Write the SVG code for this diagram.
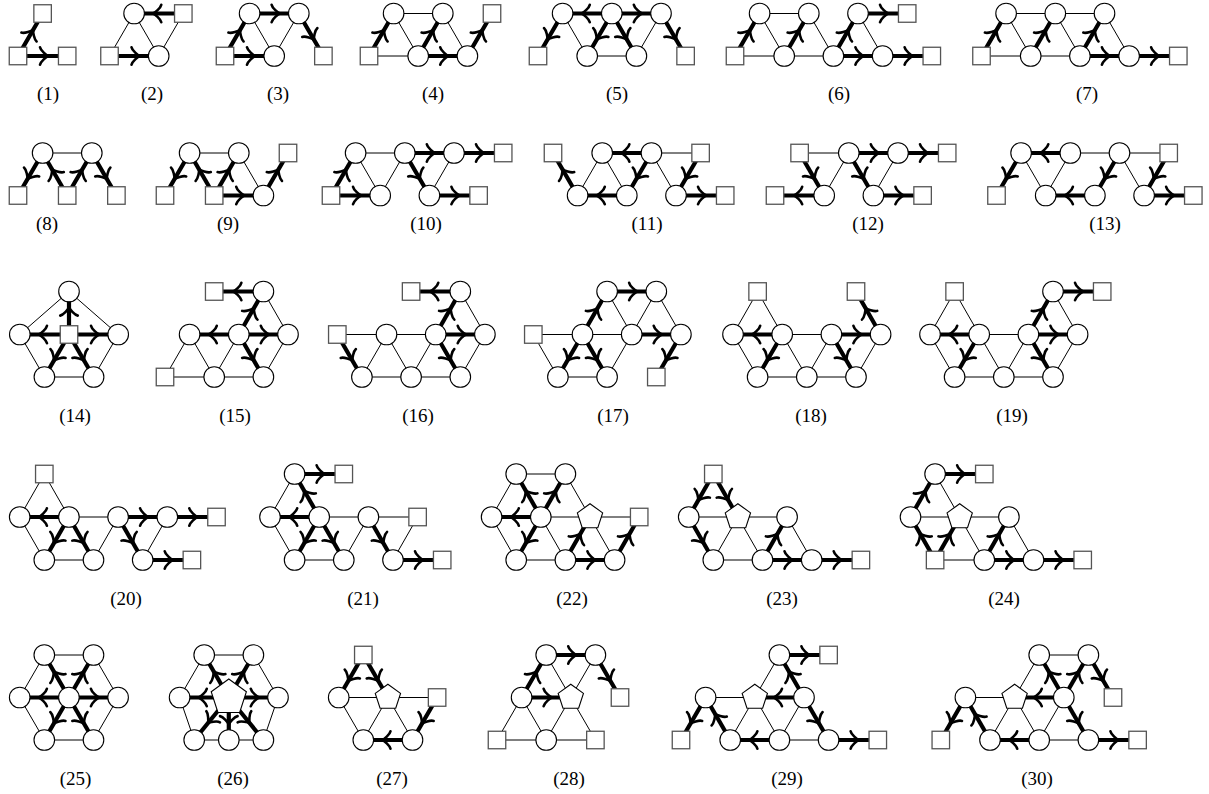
<svg xmlns="http://www.w3.org/2000/svg" xmlns:xlink="http://www.w3.org/1999/xlink" width="1209" height="794" viewBox="0 0 1209 794">
<style>
.t{stroke:#000;stroke-width:1;fill:none}
.k{stroke:#000;stroke-width:4.2;fill:none;marker-mid:url(#ah)}
.n{fill:#fff;stroke:#000;stroke-width:1.1}
.s{fill:#fff;stroke:#555;stroke-width:1.3}
text{font-family:"Liberation Serif","DejaVu Serif",serif;font-size:19px;text-anchor:middle;fill:#000}
</style>
<defs>
<marker id="ah" markerUnits="userSpaceOnUse" orient="auto" overflow="visible" markerWidth="20" markerHeight="20" refX="0" refY="0">
<path d="M-2.6 -8.8C-2 -5.5 4 -0.6 5.7 0C4 0.6 -2 5.5 -2.6 8.8" fill="none" stroke="#000" stroke-width="2.6" stroke-linecap="round" stroke-linejoin="round"/>
</marker>
<circle id="C" class="n" r="10.3"/>
<rect id="S" class="s" x="-8.75" y="-8.75" width="17.5" height="17.5"/>
<polygon id="P" class="n" points="0,-13.3 12.65,-4.11 7.82,10.76 -7.82,10.76 -12.65,-4.11"/>
<polygon id="PL" class="n" points="0,-18.5 17.59,-5.72 10.87,14.97 -10.87,14.97 -17.59,-5.72"/>
</defs>

<!-- Row 1 -->
<g id="fig1" transform="translate(18,0)">
<g class="connectors"><path class="k" d="M0 56L12.3 34.75L24.6 13.5"/><path class="k" d="M0 56L24.6 56L49.2 56"/></g>
<g class="nodes"><use id="n1a" href="#S" x="0" y="56"/><use id="n1b" href="#S" x="24.6" y="13.5"/><use id="n1c" href="#S" x="49.2" y="56"/></g>
</g>
<g id="fig2" transform="translate(109.5,0)">
<g class="connectors"><path class="t" d="M0 56L24.6 13.5M24.6 13.5L49.2 56M49.2 56L73.8 13.5"/><path class="k" d="M73.8 13.5L49.2 13.5L24.6 13.5"/><path class="k" d="M0 56L24.6 56L49.2 56"/></g>
<g class="nodes"><use id="n2a" href="#S" x="0" y="56"/><use id="n2b" href="#C" x="24.6" y="13.5"/><use id="n2c" href="#C" x="49.2" y="56"/><use id="n2d" href="#S" x="73.8" y="13.5"/></g>
</g>
<g id="fig3" transform="translate(225,0)">
<g class="connectors"><path class="t" d="M24.6 13.5L49.2 56M49.2 56L73.8 13.5"/><path class="k" d="M0 56L12.3 34.75L24.6 13.5"/><path class="k" d="M0 56L24.6 56L49.2 56"/><path class="k" d="M24.6 13.5L49.2 13.5L73.8 13.5"/><path class="k" d="M73.8 13.5L86.1 34.75L98.4 56"/></g>
<g class="nodes"><use id="n3a" href="#S" x="0" y="56"/><use id="n3b" href="#C" x="24.6" y="13.5"/><use id="n3c" href="#C" x="49.2" y="56"/><use id="n3d" href="#C" x="73.8" y="13.5"/><use id="n3e" href="#S" x="98.4" y="56"/></g>
</g>
<g id="fig4" transform="translate(369,0)">
<g class="connectors"><path class="t" d="M0 56L49.2 56M24.6 13.5L73.8 13.5M24.6 13.5L49.2 56M73.8 13.5L98.4 56"/><path class="k" d="M0 56L12.3 34.75L24.6 13.5"/><path class="k" d="M49.2 56L61.5 34.75L73.8 13.5"/><path class="k" d="M49.2 56L73.8 56L98.4 56"/><path class="k" d="M98.4 56L110.7 34.75L123 13.5"/></g>
<g class="nodes"><use id="n4a" href="#S" x="0" y="56"/><use id="n4b" href="#C" x="24.6" y="13.5"/><use id="n4c" href="#C" x="49.2" y="56"/><use id="n4d" href="#C" x="73.8" y="13.5"/><use id="n4e" href="#C" x="98.4" y="56"/><use id="n4f" href="#S" x="123" y="13.5"/></g>
</g>
<g id="fig5" transform="translate(538,0)">
<g class="connectors"><path class="t" d="M24.6 13.5L49.2 56M49.2 56L98.4 56M98.4 56L123 13.5"/><path class="k" d="M24.6 13.5L12.3 34.75L0 56"/><path class="k" d="M73.8 13.5L49.2 13.5L24.6 13.5"/><path class="k" d="M73.8 13.5L98.4 13.5L123 13.5"/><path class="k" d="M73.8 13.5L61.5 34.75L49.2 56"/><path class="k" d="M73.8 13.5L86.1 34.75L98.4 56"/><path class="k" d="M123 13.5L135.3 34.75L147.6 56"/></g>
<g class="nodes"><use id="n5a" href="#S" x="0" y="56"/><use id="n5b" href="#C" x="24.6" y="13.5"/><use id="n5c" href="#C" x="49.2" y="56"/><use id="n5d" href="#C" x="73.8" y="13.5"/><use id="n5e" href="#C" x="98.4" y="56"/><use id="n5f" href="#C" x="123" y="13.5"/><use id="n5g" href="#S" x="147.6" y="56"/></g>
</g>
<g id="fig6" transform="translate(735,0)">
<g class="connectors"><path class="t" d="M0 56L49.2 56M24.6 13.5L73.8 13.5M24.6 13.5L49.2 56M73.8 13.5L98.4 56M49.2 56L98.4 56M123 13.5L147.6 56"/><path class="k" d="M0 56L12.3 34.75L24.6 13.5"/><path class="k" d="M49.2 56L61.5 34.75L73.8 13.5"/><path class="k" d="M98.4 56L110.7 34.75L123 13.5"/><path class="k" d="M98.4 56L123 56L147.6 56"/><path class="k" d="M147.6 56L172.2 56L196.8 56"/><path class="k" d="M123 13.5L147.6 13.5L172.2 13.5"/></g>
<g class="nodes"><use id="n6a" href="#S" x="0" y="56"/><use id="n6b" href="#C" x="24.6" y="13.5"/><use id="n6c" href="#C" x="49.2" y="56"/><use id="n6d" href="#C" x="73.8" y="13.5"/><use id="n6e" href="#C" x="98.4" y="56"/><use id="n6f" href="#C" x="123" y="13.5"/><use id="n6g" href="#C" x="147.6" y="56"/><use id="n6h" href="#S" x="172.2" y="13.5"/><use id="n6i" href="#S" x="196.8" y="56"/></g>
</g>
<g id="fig7" transform="translate(981.5,0)">
<g class="connectors"><path class="t" d="M0 56L49.2 56M24.6 13.5L123 13.5M24.6 13.5L49.2 56M73.8 13.5L98.4 56M49.2 56L98.4 56M123 13.5L147.6 56"/><path class="k" d="M0 56L12.3 34.75L24.6 13.5"/><path class="k" d="M49.2 56L61.5 34.75L73.8 13.5"/><path class="k" d="M98.4 56L110.7 34.75L123 13.5"/><path class="k" d="M98.4 56L123 56L147.6 56"/><path class="k" d="M147.6 56L172.2 56L196.8 56"/></g>
<g class="nodes"><use id="n7a" href="#S" x="0" y="56"/><use id="n7b" href="#C" x="24.6" y="13.5"/><use id="n7c" href="#C" x="49.2" y="56"/><use id="n7d" href="#C" x="73.8" y="13.5"/><use id="n7e" href="#C" x="98.4" y="56"/><use id="n7f" href="#C" x="123" y="13.5"/><use id="n7g" href="#C" x="147.6" y="56"/><use id="n7h" href="#S" x="196.8" y="56"/></g>
</g>

<!-- Row 2 -->
<g id="fig8" transform="translate(18,0)">
<g class="connectors"><path class="t" d="M24.6 153L73.8 153"/><path class="k" d="M24.6 153L12.3 174.25L0 195.5"/><path class="k" d="M49.2 195.5L36.9 174.25L24.6 153"/><path class="k" d="M49.2 195.5L61.5 174.25L73.8 153"/><path class="k" d="M73.8 153L86.1 174.25L98.4 195.5"/></g>
<g class="nodes"><use id="n8a" href="#S" x="0" y="195.5"/><use id="n8b" href="#C" x="24.6" y="153"/><use id="n8c" href="#S" x="49.2" y="195.5"/><use id="n8d" href="#C" x="73.8" y="153"/><use id="n8e" href="#S" x="98.4" y="195.5"/></g>
</g>
<g id="fig9" transform="translate(165,0)">
<g class="connectors"><path class="t" d="M24.6 153L73.8 153M73.8 153L98.4 195.5"/><path class="k" d="M24.6 153L12.3 174.25L0 195.5"/><path class="k" d="M49.2 195.5L36.9 174.25L24.6 153"/><path class="k" d="M49.2 195.5L61.5 174.25L73.8 153"/><path class="k" d="M49.2 195.5L73.8 195.5L98.4 195.5"/><path class="k" d="M98.4 195.5L110.7 174.25L123 153"/></g>
<g class="nodes"><use id="n9a" href="#S" x="0" y="195.5"/><use id="n9b" href="#C" x="24.6" y="153"/><use id="n9c" href="#S" x="49.2" y="195.5"/><use id="n9d" href="#C" x="73.8" y="153"/><use id="n9e" href="#C" x="98.4" y="195.5"/><use id="n9f" href="#S" x="123" y="153"/></g>
</g>
<g id="fig10" transform="translate(331,0)">
<g class="connectors"><path class="t" d="M24.6 153L73.8 153M24.6 153L49.2 195.5M49.2 195.5L73.8 153M98.4 195.5L123 153"/><path class="k" d="M0 195.5L12.3 174.25L24.6 153"/><path class="k" d="M0 195.5L24.6 195.5L49.2 195.5"/><path class="k" d="M73.8 153L98.4 153L123 153"/><path class="k" d="M73.8 153L86.1 174.25L98.4 195.5"/><path class="k" d="M123 153L147.6 153L172.2 153"/><path class="k" d="M98.4 195.5L123 195.5L147.6 195.5"/></g>
<g class="nodes"><use id="n10a" href="#S" x="0" y="195.5"/><use id="n10b" href="#C" x="24.6" y="153"/><use id="n10c" href="#C" x="49.2" y="195.5"/><use id="n10d" href="#C" x="73.8" y="153"/><use id="n10e" href="#C" x="98.4" y="195.5"/><use id="n10f" href="#C" x="123" y="153"/><use id="n10g" href="#S" x="147.6" y="195.5"/><use id="n10h" href="#S" x="172.2" y="153"/></g>
</g>
<g id="fig11" transform="translate(553,0)">
<g class="connectors"><path class="t" d="M24.6 195.5L49.2 153M49.2 153L73.8 195.5M98.4 153L147.6 153M98.4 153L123 195.5"/><path class="k" d="M24.6 195.5L12.3 174.25L0 153"/><path class="k" d="M98.4 153L73.8 153L49.2 153"/><path class="k" d="M73.8 195.5L49.2 195.5L24.6 195.5"/><path class="k" d="M98.4 153L86.1 174.25L73.8 195.5"/><path class="k" d="M147.6 153L135.3 174.25L123 195.5"/><path class="k" d="M123 195.5L147.6 195.5L172.2 195.5"/></g>
<g class="nodes"><use id="n11a" href="#S" x="0" y="153"/><use id="n11b" href="#C" x="24.6" y="195.5"/><use id="n11c" href="#C" x="49.2" y="153"/><use id="n11d" href="#C" x="73.8" y="195.5"/><use id="n11e" href="#C" x="98.4" y="153"/><use id="n11f" href="#C" x="123" y="195.5"/><use id="n11g" href="#S" x="147.6" y="153"/><use id="n11h" href="#S" x="172.2" y="195.5"/></g>
</g>
<g id="fig12" transform="translate(775,0)">
<g class="connectors"><path class="t" d="M24.6 153L73.8 153M49.2 195.5L73.8 153M98.4 195.5L123 153"/><path class="k" d="M24.6 153L36.9 174.25L49.2 195.5"/><path class="k" d="M49.2 195.5L24.6 195.5L0 195.5"/><path class="k" d="M73.8 153L98.4 153L123 153"/><path class="k" d="M73.8 153L86.1 174.25L98.4 195.5"/><path class="k" d="M123 153L147.6 153L172.2 153"/><path class="k" d="M98.4 195.5L123 195.5L147.6 195.5"/></g>
<g class="nodes"><use id="n12a" href="#S" x="0" y="195.5"/><use id="n12b" href="#S" x="24.6" y="153"/><use id="n12c" href="#C" x="49.2" y="195.5"/><use id="n12d" href="#C" x="73.8" y="153"/><use id="n12e" href="#C" x="98.4" y="195.5"/><use id="n12f" href="#C" x="123" y="153"/><use id="n12g" href="#S" x="147.6" y="195.5"/><use id="n12h" href="#S" x="172.2" y="153"/></g>
</g>
<g id="fig13" transform="translate(996.5,0)">
<g class="connectors"><path class="t" d="M24.6 153L49.2 195.5M49.2 195.5L73.8 153M73.8 153L172.2 153M123 153L147.6 195.5"/><path class="k" d="M24.6 153L12.3 174.25L0 195.5"/><path class="k" d="M73.8 153L49.2 153L24.6 153"/><path class="k" d="M98.4 195.5L73.8 195.5L49.2 195.5"/><path class="k" d="M123 153L110.7 174.25L98.4 195.5"/><path class="k" d="M172.2 153L159.9 174.25L147.6 195.5"/><path class="k" d="M147.6 195.5L172.2 195.5L196.8 195.5"/></g>
<g class="nodes"><use id="n13a" href="#S" x="0" y="195.5"/><use id="n13b" href="#C" x="24.6" y="153"/><use id="n13c" href="#C" x="49.2" y="195.5"/><use id="n13d" href="#C" x="73.8" y="153"/><use id="n13e" href="#C" x="98.4" y="195.5"/><use id="n13f" href="#C" x="123" y="153"/><use id="n13g" href="#C" x="147.6" y="195.5"/><use id="n13h" href="#S" x="172.2" y="153"/><use id="n13i" href="#S" x="196.8" y="195.5"/></g>
</g>

<!-- Row 3 -->
<g id="fig14" transform="translate(19.8,0)">
<g class="connectors"><path class="t" d="M49.2 291.5L0 334.5M49.2 291.5L98.4 334.5M0 334.5L24.6 377M98.4 334.5L73.8 377M24.6 377L73.8 377"/><path class="k" d="M49.2 334.5L49.2 313L49.2 291.5"/><path class="k" d="M49.2 334.5L24.6 334.5L0 334.5"/><path class="k" d="M49.2 334.5L73.8 334.5L98.4 334.5"/><path class="k" d="M49.2 334.5L36.9 355.75L24.6 377"/><path class="k" d="M49.2 334.5L61.5 355.75L73.8 377"/></g>
<g class="nodes"><use id="n14a" href="#C" x="49.2" y="291.5"/><use id="n14b" href="#C" x="0" y="334.5"/><use id="n14c" href="#S" x="49.2" y="334.5"/><use id="n14d" href="#C" x="98.4" y="334.5"/><use id="n14e" href="#C" x="24.6" y="377"/><use id="n14f" href="#C" x="73.8" y="377"/></g>
</g>
<g id="fig15" transform="translate(165,0)">
<g class="connectors"><path class="t" d="M98.4 291.5L123 334.5M24.6 334.5L0 377M24.6 334.5L49.2 377M49.2 377L73.8 334.5M123 334.5L98.4 377M0 377L98.4 377"/><path class="k" d="M98.4 291.5L73.8 291.5L49.2 291.5"/><path class="k" d="M73.8 334.5L86.1 313L98.4 291.5"/><path class="k" d="M73.8 334.5L49.2 334.5L24.6 334.5"/><path class="k" d="M73.8 334.5L98.4 334.5L123 334.5"/><path class="k" d="M73.8 334.5L86.1 355.75L98.4 377"/></g>
<g class="nodes"><use id="n15a" href="#S" x="0" y="377"/><use id="n15b" href="#C" x="49.2" y="377"/><use id="n15c" href="#C" x="98.4" y="377"/><use id="n15d" href="#C" x="24.6" y="334.5"/><use id="n15e" href="#C" x="73.8" y="334.5"/><use id="n15f" href="#C" x="123" y="334.5"/><use id="n15g" href="#S" x="49.2" y="291.5"/><use id="n15h" href="#C" x="98.4" y="291.5"/></g>
</g>
<g id="fig16" transform="translate(337.3,0)">
<g class="connectors"><path class="t" d="M123 291.5L147.6 334.5M0 334.5L98.4 334.5M24.6 377L49.2 334.5M49.2 334.5L73.8 377M73.8 377L98.4 334.5M147.6 334.5L123 377M24.6 377L123 377"/><path class="k" d="M123 291.5L98.4 291.5L73.8 291.5"/><path class="k" d="M98.4 334.5L110.7 313L123 291.5"/><path class="k" d="M98.4 334.5L123 334.5L147.6 334.5"/><path class="k" d="M0 334.5L12.3 355.75L24.6 377"/><path class="k" d="M98.4 334.5L110.7 355.75L123 377"/></g>
<g class="nodes"><use id="n16a" href="#S" x="0" y="334.5"/><use id="n16b" href="#C" x="49.2" y="334.5"/><use id="n16c" href="#C" x="98.4" y="334.5"/><use id="n16d" href="#C" x="147.6" y="334.5"/><use id="n16e" href="#C" x="24.6" y="377"/><use id="n16f" href="#C" x="73.8" y="377"/><use id="n16g" href="#C" x="123" y="377"/><use id="n16h" href="#S" x="73.8" y="291.5"/><use id="n16i" href="#C" x="123" y="291.5"/></g>
</g>
<g id="fig17" transform="translate(533.3,0)">
<g class="connectors"><path class="t" d="M0 334.5L98.4 334.5M0 334.5L24.6 377M73.8 291.5L98.4 334.5M123 291.5L98.4 334.5M123 291.5L147.6 334.5M73.8 377L98.4 334.5M24.6 377L73.8 377"/><path class="k" d="M49.2 334.5L61.5 313L73.8 291.5"/><path class="k" d="M73.8 291.5L98.4 291.5L123 291.5"/><path class="k" d="M98.4 334.5L123 334.5L147.6 334.5"/><path class="k" d="M147.6 334.5L135.3 355.75L123 377"/><path class="k" d="M49.2 334.5L36.9 355.75L24.6 377"/><path class="k" d="M49.2 334.5L61.5 355.75L73.8 377"/></g>
<g class="nodes"><use id="n17a" href="#S" x="0" y="334.5"/><use id="n17b" href="#C" x="49.2" y="334.5"/><use id="n17c" href="#C" x="98.4" y="334.5"/><use id="n17d" href="#C" x="147.6" y="334.5"/><use id="n17e" href="#C" x="73.8" y="291.5"/><use id="n17f" href="#C" x="123" y="291.5"/><use id="n17g" href="#C" x="24.6" y="377"/><use id="n17h" href="#C" x="73.8" y="377"/><use id="n17i" href="#S" x="123" y="377"/></g>
</g>
<g id="fig18" transform="translate(733,0)">
<g class="connectors"><path class="t" d="M24.6 291.5L0 334.5M24.6 291.5L49.2 334.5M0 334.5L24.6 377M49.2 334.5L73.8 377M49.2 334.5L98.4 334.5M73.8 377L98.4 334.5M147.6 334.5L123 377M24.6 377L123 377"/><path class="k" d="M49.2 334.5L24.6 334.5L0 334.5"/><path class="k" d="M49.2 334.5L36.9 355.75L24.6 377"/><path class="k" d="M98.4 334.5L123 334.5L147.6 334.5"/><path class="k" d="M147.6 334.5L135.3 313L123 291.5"/><path class="k" d="M98.4 334.5L110.7 355.75L123 377"/></g>
<g class="nodes"><use id="n18a" href="#C" x="0" y="334.5"/><use id="n18b" href="#C" x="49.2" y="334.5"/><use id="n18c" href="#C" x="98.4" y="334.5"/><use id="n18d" href="#C" x="147.6" y="334.5"/><use id="n18e" href="#S" x="24.6" y="291.5"/><use id="n18f" href="#S" x="123" y="291.5"/><use id="n18g" href="#C" x="24.6" y="377"/><use id="n18h" href="#C" x="73.8" y="377"/><use id="n18i" href="#C" x="123" y="377"/></g>
</g>
<g id="fig19" transform="translate(930,0)">
<g class="connectors"><path class="t" d="M24.6 291.5L0 334.5M24.6 291.5L49.2 334.5M0 334.5L24.6 377M49.2 334.5L73.8 377M49.2 334.5L98.4 334.5M73.8 377L98.4 334.5M123 291.5L147.6 334.5M147.6 334.5L123 377M24.6 377L123 377"/><path class="k" d="M49.2 334.5L24.6 334.5L0 334.5"/><path class="k" d="M49.2 334.5L36.9 355.75L24.6 377"/><path class="k" d="M98.4 334.5L110.7 313L123 291.5"/><path class="k" d="M123 291.5L147.6 291.5L172.2 291.5"/><path class="k" d="M98.4 334.5L123 334.5L147.6 334.5"/><path class="k" d="M98.4 334.5L110.7 355.75L123 377"/></g>
<g class="nodes"><use id="n19a" href="#C" x="0" y="334.5"/><use id="n19b" href="#C" x="49.2" y="334.5"/><use id="n19c" href="#C" x="98.4" y="334.5"/><use id="n19d" href="#C" x="147.6" y="334.5"/><use id="n19e" href="#S" x="24.6" y="291.5"/><use id="n19f" href="#C" x="123" y="291.5"/><use id="n19g" href="#S" x="172.2" y="291.5"/><use id="n19h" href="#C" x="24.6" y="377"/><use id="n19i" href="#C" x="73.8" y="377"/><use id="n19j" href="#C" x="123" y="377"/></g>
</g>

<!-- Row 4 -->
<g id="fig20" transform="translate(19.7,0)">
<g class="connectors"><path class="t" d="M24.6 474L0 517M24.6 474L49.2 517M49.2 517L98.4 517M0 517L24.6 560M24.6 560L73.8 560M73.8 560L98.4 517M147.6 517L123 560"/><path class="k" d="M49.2 517L24.6 517L0 517"/><path class="k" d="M98.4 517L123 517L147.6 517"/><path class="k" d="M147.6 517L172.2 517L196.8 517"/><path class="k" d="M49.2 517L36.9 538.5L24.6 560"/><path class="k" d="M49.2 517L61.5 538.5L73.8 560"/><path class="k" d="M98.4 517L110.7 538.5L123 560"/><path class="k" d="M123 560L147.6 560L172.2 560"/></g>
<g class="nodes"><use id="n20a" href="#S" x="24.6" y="474"/><use id="n20b" href="#C" x="0" y="517"/><use id="n20c" href="#C" x="49.2" y="517"/><use id="n20d" href="#C" x="98.4" y="517"/><use id="n20e" href="#C" x="147.6" y="517"/><use id="n20f" href="#S" x="196.8" y="517"/><use id="n20g" href="#C" x="24.6" y="560"/><use id="n20h" href="#C" x="73.8" y="560"/><use id="n20i" href="#C" x="123" y="560"/><use id="n20j" href="#S" x="172.2" y="560"/></g>
</g>
<g id="fig21" transform="translate(270,0)">
<g class="connectors"><path class="t" d="M24.6 474L0 517M49.2 517L147.6 517M0 517L24.6 560M24.6 560L73.8 560M73.8 560L98.4 517M147.6 517L123 560"/><path class="k" d="M24.6 474L49.2 474L73.8 474"/><path class="k" d="M49.2 517L36.9 495.5L24.6 474"/><path class="k" d="M49.2 517L24.6 517L0 517"/><path class="k" d="M49.2 517L36.9 538.5L24.6 560"/><path class="k" d="M49.2 517L61.5 538.5L73.8 560"/><path class="k" d="M98.4 517L110.7 538.5L123 560"/><path class="k" d="M123 560L147.6 560L172.2 560"/></g>
<g class="nodes"><use id="n21a" href="#C" x="24.6" y="474"/><use id="n21b" href="#S" x="73.8" y="474"/><use id="n21c" href="#C" x="0" y="517"/><use id="n21d" href="#C" x="49.2" y="517"/><use id="n21e" href="#C" x="98.4" y="517"/><use id="n21f" href="#S" x="147.6" y="517"/><use id="n21g" href="#C" x="24.6" y="560"/><use id="n21h" href="#C" x="73.8" y="560"/><use id="n21i" href="#C" x="123" y="560"/><use id="n21j" href="#S" x="172.2" y="560"/></g>
</g>
<g id="fig22" transform="translate(491.6,0)">
<g class="connectors"><path class="t" d="M24.6 474L73.8 474M24.6 474L0 517M73.8 474L98.4 517M49.2 517L147.6 517M0 517L24.6 560M49.2 517L73.8 560M98.4 517L123 560M24.6 560L73.8 560"/><path class="k" d="M49.2 517L36.9 495.5L24.6 474"/><path class="k" d="M49.2 517L61.5 495.5L73.8 474"/><path class="k" d="M49.2 517L24.6 517L0 517"/><path class="k" d="M49.2 517L36.9 538.5L24.6 560"/><path class="k" d="M73.8 560L86.1 538.5L98.4 517"/><path class="k" d="M73.8 560L98.4 560L123 560"/><path class="k" d="M123 560L135.3 538.5L147.6 517"/></g>
<g class="nodes"><use id="n22a" href="#C" x="24.6" y="474"/><use id="n22b" href="#C" x="73.8" y="474"/><use id="n22c" href="#C" x="0" y="517"/><use id="n22d" href="#C" x="49.2" y="517"/><use id="n22e" href="#P" x="98.4" y="517"/><use id="n22f" href="#S" x="147.6" y="517"/><use id="n22g" href="#C" x="24.6" y="560"/><use id="n22h" href="#C" x="73.8" y="560"/><use id="n22i" href="#C" x="123" y="560"/></g>
</g>
<g id="fig23" transform="translate(688.7,0)">
<g class="connectors"><path class="t" d="M0 517L98.4 517M49.2 517L24.6 560M49.2 517L73.8 560M98.4 517L123 560M24.6 560L73.8 560"/><path class="k" d="M24.6 474L12.3 495.5L0 517"/><path class="k" d="M24.6 474L36.9 495.5L49.2 517"/><path class="k" d="M0 517L12.3 538.5L24.6 560"/><path class="k" d="M73.8 560L86.1 538.5L98.4 517"/><path class="k" d="M73.8 560L98.4 560L123 560"/><path class="k" d="M123 560L147.6 560L172.2 560"/></g>
<g class="nodes"><use id="n23a" href="#S" x="24.6" y="474"/><use id="n23b" href="#C" x="0" y="517"/><use id="n23c" href="#P" x="49.2" y="517"/><use id="n23d" href="#C" x="98.4" y="517"/><use id="n23e" href="#C" x="24.6" y="560"/><use id="n23f" href="#C" x="73.8" y="560"/><use id="n23g" href="#C" x="123" y="560"/><use id="n23h" href="#S" x="172.2" y="560"/></g>
</g>
<g id="fig24" transform="translate(910.5,0)">
<g class="connectors"><path class="t" d="M24.6 474L49.2 517M0 517L98.4 517M24.6 560L73.8 560M49.2 517L73.8 560M98.4 517L123 560"/><path class="k" d="M24.6 474L49.2 474L73.8 474"/><path class="k" d="M0 517L12.3 495.5L24.6 474"/><path class="k" d="M24.6 560L12.3 538.5L0 517"/><path class="k" d="M24.6 560L36.9 538.5L49.2 517"/><path class="k" d="M73.8 560L86.1 538.5L98.4 517"/><path class="k" d="M73.8 560L98.4 560L123 560"/><path class="k" d="M123 560L147.6 560L172.2 560"/></g>
<g class="nodes"><use id="n24a" href="#C" x="24.6" y="474"/><use id="n24b" href="#S" x="73.8" y="474"/><use id="n24c" href="#C" x="0" y="517"/><use id="n24d" href="#P" x="49.2" y="517"/><use id="n24e" href="#C" x="98.4" y="517"/><use id="n24f" href="#S" x="24.6" y="560"/><use id="n24g" href="#C" x="73.8" y="560"/><use id="n24h" href="#C" x="123" y="560"/><use id="n24i" href="#S" x="172.2" y="560"/></g>
</g>

<!-- Row 5 -->
<g id="fig25" transform="translate(19.7,0)">
<g class="connectors"><path class="t" d="M24.6 655L73.8 655M24.6 655L0 697.5M73.8 655L98.4 697.5M0 697.5L24.6 740M98.4 697.5L73.8 740M24.6 740L73.8 740"/><path class="k" d="M49.2 697.5L36.9 676.25L24.6 655"/><path class="k" d="M49.2 697.5L61.5 676.25L73.8 655"/><path class="k" d="M49.2 697.5L24.6 697.5L0 697.5"/><path class="k" d="M49.2 697.5L73.8 697.5L98.4 697.5"/><path class="k" d="M49.2 697.5L36.9 718.75L24.6 740"/><path class="k" d="M49.2 697.5L61.5 718.75L73.8 740"/></g>
<g class="nodes"><use id="n25a" href="#C" x="24.6" y="655"/><use id="n25b" href="#C" x="73.8" y="655"/><use id="n25c" href="#C" x="0" y="697.5"/><use id="n25d" href="#C" x="49.2" y="697.5"/><use id="n25e" href="#C" x="98.4" y="697.5"/><use id="n25f" href="#C" x="24.6" y="740"/><use id="n25g" href="#C" x="73.8" y="740"/></g>
</g>
<g id="fig26" transform="translate(179.6,0)">
<g class="connectors"><path class="t" d="M24.6 655L73.8 655M24.6 655L0 697.5M73.8 655L98.4 697.5M0 697.5L14.6 740M98.4 697.5L83.8 740M14.6 740L83.8 740"/><path class="k" d="M49.2 697.5L36.9 676.25L24.6 655"/><path class="k" d="M49.2 697.5L61.5 676.25L73.8 655"/><path class="k" d="M49.2 697.5L24.6 697.5L0 697.5"/><path class="k" d="M49.2 697.5L73.8 697.5L98.4 697.5"/><path class="k" d="M49.2 697.5L31.9 718.75L14.6 740"/><path class="k" d="M49.2 697.5L49.2 718.75L49.2 740"/><path class="k" d="M49.2 697.5L66.5 718.75L83.8 740"/></g>
<g class="nodes"><use id="n26a" href="#C" x="24.6" y="655"/><use id="n26b" href="#C" x="73.8" y="655"/><use id="n26c" href="#C" x="0" y="697.5"/><use id="n26d" href="#PL" x="49.2" y="697.5"/><use id="n26e" href="#C" x="98.4" y="697.5"/><use id="n26f" href="#C" x="14.6" y="740"/><use id="n26g" href="#C" x="49.2" y="740"/><use id="n26h" href="#C" x="83.8" y="740"/></g>
</g>
<g id="fig27" transform="translate(338.7,0)">
<g class="connectors"><path class="t" d="M0 697.5L98.4 697.5M0 697.5L24.6 740M49.2 697.5L24.6 740M49.2 697.5L73.8 740"/><path class="k" d="M24.6 655L12.3 676.25L0 697.5"/><path class="k" d="M24.6 655L36.9 676.25L49.2 697.5"/><path class="k" d="M73.8 740L49.2 740L24.6 740"/><path class="k" d="M98.4 697.5L86.1 718.75L73.8 740"/></g>
<g class="nodes"><use id="n27a" href="#S" x="24.6" y="655"/><use id="n27b" href="#C" x="0" y="697.5"/><use id="n27c" href="#P" x="49.2" y="697.5"/><use id="n27d" href="#S" x="98.4" y="697.5"/><use id="n27e" href="#C" x="24.6" y="740"/><use id="n27f" href="#C" x="73.8" y="740"/></g>
</g>
<g id="fig28" transform="translate(497,0)">
<g class="connectors"><path class="t" d="M49.2 655L73.8 697.5M98.4 655L73.8 697.5M24.6 697.5L0 740M24.6 697.5L49.2 740M73.8 697.5L49.2 740M73.8 697.5L98.4 740M0 740L98.4 740"/><path class="k" d="M49.2 655L73.8 655L98.4 655"/><path class="k" d="M24.6 697.5L36.9 676.25L49.2 655"/><path class="k" d="M24.6 697.5L49.2 697.5L73.8 697.5"/><path class="k" d="M98.4 655L110.7 676.25L123 697.5"/></g>
<g class="nodes"><use id="n28a" href="#C" x="49.2" y="655"/><use id="n28b" href="#C" x="98.4" y="655"/><use id="n28c" href="#C" x="24.6" y="697.5"/><use id="n28d" href="#P" x="73.8" y="697.5"/><use id="n28e" href="#S" x="123" y="697.5"/><use id="n28f" href="#S" x="0" y="740"/><use id="n28g" href="#C" x="49.2" y="740"/><use id="n28h" href="#S" x="98.4" y="740"/></g>
</g>
<g id="fig29" transform="translate(681,0)">
<g class="connectors"><path class="t" d="M98.4 655L73.8 697.5M24.6 697.5L73.8 697.5M73.8 697.5L49.2 740M73.8 697.5L98.4 740M98.4 740L123 697.5M98.4 740L147.6 740"/><path class="k" d="M98.4 655L123 655L147.6 655"/><path class="k" d="M123 697.5L110.7 676.25L98.4 655"/><path class="k" d="M123 697.5L98.4 697.5L73.8 697.5"/><path class="k" d="M24.6 697.5L12.3 718.75L0 740"/><path class="k" d="M49.2 740L36.9 718.75L24.6 697.5"/><path class="k" d="M98.4 740L73.8 740L49.2 740"/><path class="k" d="M123 697.5L135.3 718.75L147.6 740"/><path class="k" d="M147.6 740L172.2 740L196.8 740"/></g>
<g class="nodes"><use id="n29a" href="#C" x="98.4" y="655"/><use id="n29b" href="#S" x="147.6" y="655"/><use id="n29c" href="#C" x="24.6" y="697.5"/><use id="n29d" href="#P" x="73.8" y="697.5"/><use id="n29e" href="#C" x="123" y="697.5"/><use id="n29f" href="#S" x="0" y="740"/><use id="n29g" href="#C" x="49.2" y="740"/><use id="n29h" href="#C" x="98.4" y="740"/><use id="n29i" href="#C" x="147.6" y="740"/><use id="n29j" href="#S" x="196.8" y="740"/></g>
</g>
<g id="fig30" transform="translate(940.8,0)">
<g class="connectors"><path class="t" d="M98.4 655L147.6 655M98.4 655L73.8 697.5M24.6 697.5L73.8 697.5M73.8 697.5L49.2 740M73.8 697.5L98.4 740M98.4 740L123 697.5M98.4 740L147.6 740"/><path class="k" d="M123 697.5L110.7 676.25L98.4 655"/><path class="k" d="M123 697.5L135.3 676.25L147.6 655"/><path class="k" d="M147.6 655L159.9 676.25L172.2 697.5"/><path class="k" d="M123 697.5L98.4 697.5L73.8 697.5"/><path class="k" d="M24.6 697.5L12.3 718.75L0 740"/><path class="k" d="M49.2 740L36.9 718.75L24.6 697.5"/><path class="k" d="M98.4 740L73.8 740L49.2 740"/><path class="k" d="M123 697.5L135.3 718.75L147.6 740"/><path class="k" d="M147.6 740L172.2 740L196.8 740"/></g>
<g class="nodes"><use id="n30a" href="#C" x="98.4" y="655"/><use id="n30b" href="#C" x="147.6" y="655"/><use id="n30c" href="#C" x="24.6" y="697.5"/><use id="n30d" href="#P" x="73.8" y="697.5"/><use id="n30e" href="#C" x="123" y="697.5"/><use id="n30f" href="#S" x="172.2" y="697.5"/><use id="n30g" href="#S" x="0" y="740"/><use id="n30h" href="#C" x="49.2" y="740"/><use id="n30i" href="#C" x="98.4" y="740"/><use id="n30j" href="#C" x="147.6" y="740"/><use id="n30k" href="#S" x="196.8" y="740"/></g>
</g>

<g id="labels">
<text x="48" y="100">(1)</text><text x="152" y="100">(2)</text><text x="278" y="100">(3)</text><text x="433" y="100">(4)</text><text x="617" y="100">(5)</text><text x="839" y="100">(6)</text><text x="1087" y="100">(7)</text>
<text x="47" y="230">(8)</text><text x="228" y="230">(9)</text><text x="426" y="230">(10)</text><text x="647" y="230">(11)</text><text x="868" y="230">(12)</text><text x="1105" y="230">(13)</text>
<text x="75" y="422">(14)</text><text x="235" y="422">(15)</text><text x="418" y="422">(16)</text><text x="613" y="422">(17)</text><text x="811" y="422">(18)</text><text x="1012" y="422">(19)</text>
<text x="126" y="605">(20)</text><text x="363" y="605">(21)</text><text x="572" y="605">(22)</text><text x="782" y="605">(23)</text><text x="1004" y="605">(24)</text>
<text x="75.6" y="785">(25)</text><text x="233" y="785">(26)</text><text x="392" y="785">(27)</text><text x="569" y="785">(28)</text><text x="787" y="785">(29)</text><text x="1037" y="785">(30)</text>
</g>
</svg>
